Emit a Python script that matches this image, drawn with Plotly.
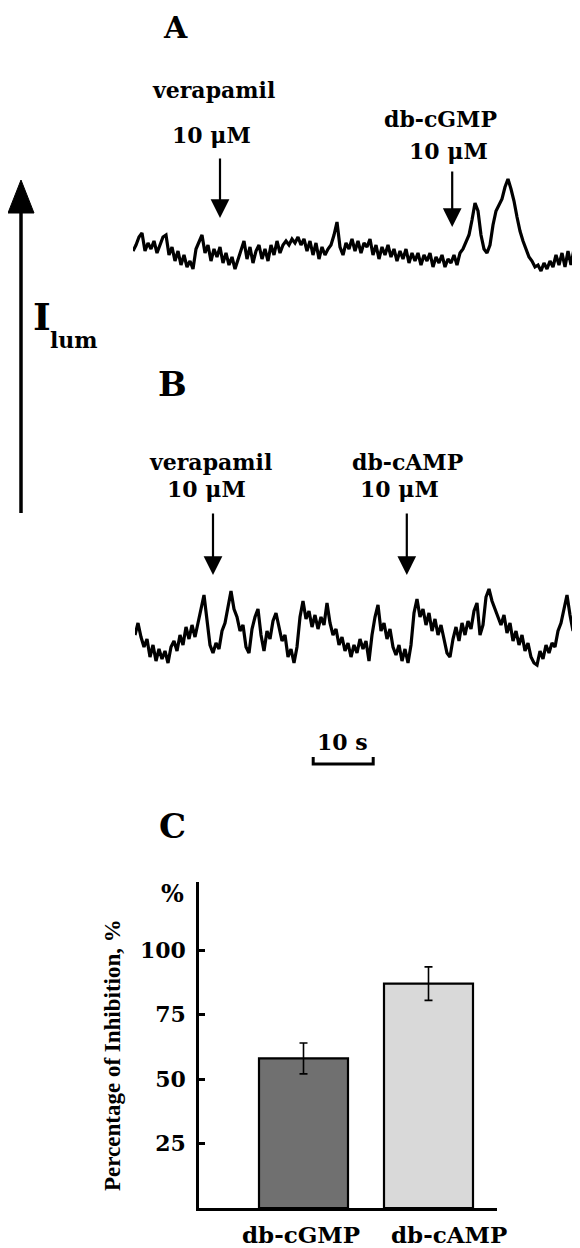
import plotly.graph_objects as go

# page body has an 8 px margin: figure is sized so that it fills the 580x1248 window exactly
OFF = 8
W, H = 580 - OFF, 1248 - OFF
def px(x):
    return (x - OFF) / W
def py(y):
    return 1 - (y - OFF) / H

# ---------------- data ----------------
sample_dt = 0.5  # s between samples

trace_a = [24, 30, 38, 42, 24, 32, 26, 34, 22, 30, 38, 40, 20, 28, 14, 24, 10, 20, 8, 14,
           6, 26, 34, 40, 22, 30, 14, 26, 18, 28, 12, 22, 10, 18, 6, 16, 24, 34, 16, 28,
           12, 24, 30, 16, 26, 14, 30, 20, 34, 22, 30, 34, 30, 36, 32, 38, 30, 36, 24, 34,
           20, 32, 16, 28, 20, 26, 30, 40, 53, 28, 20, 32, 26, 36, 24, 34, 22, 32, 28, 36,
           20, 30, 16, 28, 20, 30, 18, 26, 14, 24, 16, 26, 12, 22, 14, 22, 10, 20, 14, 22,
           8, 18, 12, 20, 8, 16, 12, 20, 10, 22, 26, 34, 40, 55, 72, 64, 40, 26, 22, 30,
           50, 64, 70, 76, 88, 96, 86, 74, 58, 44, 34, 26, 18, 14, 8, 10, 4, 12, 6, 14,
           8, 20, 10, 22, 8, 24, 10, 26, 12]

trace_b = [40, 52, 38, 28, 36, 18, 30, 14, 26, 16, 24, 12, 28, 34, 24, 40, 30, 48, 36, 50,
           38, 54, 66, 80, 56, 30, 22, 32, 26, 44, 52, 68, 84, 66, 58, 44, 50, 28, 22, 46,
           58, 66, 40, 24, 44, 36, 54, 62, 46, 34, 40, 18, 26, 12, 28, 58, 74, 56, 64, 48,
           60, 46, 58, 50, 72, 52, 40, 46, 30, 38, 24, 32, 18, 30, 22, 36, 26, 34, 14, 40,
           58, 70, 44, 52, 36, 46, 28, 20, 30, 14, 26, 12, 30, 62, 76, 58, 66, 50, 62, 44,
           56, 40, 50, 34, 22, 18, 36, 48, 34, 52, 40, 54, 46, 64, 72, 40, 50, 78, 86, 74,
           66, 58, 50, 60, 42, 52, 34, 44, 30, 40, 24, 32, 18, 12, 10, 24, 16, 30, 22, 32,
           28, 44, 52, 66, 80, 60, 44, 54, 42]

time_a = [i * sample_dt for i in range(len(trace_a))]
time_b = [i * sample_dt for i in range(len(trace_b))]

arrow_times_a = [14.5, 53.2]          # s
arrow_times_b = [13.0, 45.3]          # s
scale_bar_s = [29.7, 39.7]            # 10 s scale bar

categories = ["db-cGMP", "db-cAMP"]
inhibition = [58, 87]
inhibition_err = [6, 6.5]
y_ticks = [25, 50, 75, 100]
bar_colors = ["#707070", "#d9d9d9"]

SERIF = "DejaVu Serif"
TIMES = "Liberation Serif"

fig = go.Figure()

fig.add_trace(go.Scatter(x=time_a, y=trace_a, mode="lines", line=dict(color="black", width=3.2),
                         xaxis="x", yaxis="y", showlegend=False))
fig.add_trace(go.Scatter(x=time_b, y=trace_b, mode="lines", line=dict(color="black", width=3.2),
                         xaxis="x2", yaxis="y2", showlegend=False))
fig.add_trace(go.Bar(x=categories, y=inhibition, width=0.712,
                     marker=dict(color=bar_colors, line=dict(color="black", width=2.2)),
                     error_y=dict(type="data", array=inhibition_err, color="black", thickness=1.6, width=4),
                     xaxis="x3", yaxis="y3", showlegend=False))

hidden = dict(visible=False, fixedrange=True)
fig.update_layout(
    width=W, height=H, margin=dict(l=0, r=0, t=0, b=0),
    paper_bgcolor="white", plot_bgcolor="rgba(0,0,0,0)",
    xaxis=dict(domain=[px(133), px(577)], range=[0, 74], anchor="y", **hidden),
    yaxis=dict(domain=[py(275), py(170)], range=[0, 105], anchor="x", **hidden),
    xaxis2=dict(domain=[px(135), px(579)], range=[0, 74], anchor="y2", **hidden),
    yaxis2=dict(domain=[py(675), py(575)], range=[0, 100], anchor="x2", **hidden),
    xaxis3=dict(domain=[px(199), px(497)], range=[-0.836, 1.548], anchor="y3",
                showline=True, linecolor="black", linewidth=2.5, ticks="", showticklabels=False,
                showgrid=False, zeroline=False, fixedrange=True),
    yaxis3=dict(domain=[py(1208), py(882)], range=[0, 126.4], anchor="x3",
                showline=True, linecolor="black", linewidth=2.5, ticks="inside", ticklen=6,
                tickwidth=2.5, tickcolor="black", tickvals=y_ticks, ticklabelstandoff=6,
                tickfont=dict(family=SERIF, size=22, color="black", weight="bold"),
                showgrid=False, zeroline=False, fixedrange=True),
)

ann = []
def text(t, x, y, size, family=SERIF, **kw):
    ann.append(dict(text=f"<b>{t}</b>", x=px(x), y=py(y), xref="paper", yref="paper",
                    showarrow=False, font=dict(family=family, size=size, color="black"),
                    xanchor="center", yanchor="middle", **kw))

# panel letters
text("A", 175, 28, 30)
text("B", 172, 384, 34)
text("C", 172, 826, 34)

# panel A labels
text("verapamil", 213, 90, 22)
text("10 μM", 211, 135, 22)
text("db-cGMP", 440, 119, 22)
text("10 μM", 448, 151, 22)

# panel B labels
text("verapamil", 210, 462, 22)
text("10 μM", 206, 489, 22)
text("db-cAMP", 407, 462, 22)
text("10 μM", 399, 489, 22)

# I_lum
text("I", 42, 316, 38)
text("lum", 74, 340, 22)

# scale bar label
text("10 s", 342, 742, 22)

# % and y-title for C
text("%", 172, 893, 24)
ann.append(dict(text="<b>Percentage of Inhibition, %</b>", x=px(112), y=py(1055), xref="paper", yref="paper",
                showarrow=False, textangle=-90, font=dict(family=TIMES, size=23, color="black"),
                xanchor="center", yanchor="middle"))

# category labels
for cat, shift in zip(categories, [-3, 20]):
    ann.append(dict(text=f"<b>{cat}</b>", x=cat, xref="x3", y=py(1234), yref="paper", xshift=shift,
                    showarrow=False, font=dict(family=SERIF, size=23, color="black"),
                    xanchor="center", yanchor="middle"))

# drug arrows
for t, tip, length in zip(arrow_times_a, [218, 227], [61, 57]):
    ann.append(dict(text="", x=t, xref="x", y=py(tip), yref="paper", ax=0, ay=-length,
                    showarrow=True, arrowhead=2, arrowsize=1.7, arrowwidth=2.2, arrowcolor="black"))
for t in arrow_times_b:
    ann.append(dict(text="", x=t, xref="x2", y=py(575), yref="paper", ax=0, ay=-63,
                    showarrow=True, arrowhead=2, arrowsize=1.7, arrowwidth=2.2, arrowcolor="black"))

fig.update_layout(annotations=ann)

shapes = []
# big I_lum arrow
shapes.append(dict(type="line", xref="paper", yref="paper", x0=px(21), x1=px(21), y0=py(513), y1=py(205),
                   line=dict(color="black", width=3.5)))
shapes.append(dict(type="path", xref="paper", yref="paper",
                   path=f"M {px(8)},{py(213)} L {px(34)},{py(213)} L {px(21)},{py(180)} Z",
                   fillcolor="black", line=dict(color="black", width=1)))
# 10 s scale bar
shapes.append(dict(type="path", xref="x2", yref="paper",
                   path=f"M {scale_bar_s[0]},{py(757)} L {scale_bar_s[0]},{py(764)} L {scale_bar_s[1]},{py(764)} L {scale_bar_s[1]},{py(757)}",
                   line=dict(color="black", width=3)))
fig.update_layout(shapes=shapes)

fig.write_html("out.html")
